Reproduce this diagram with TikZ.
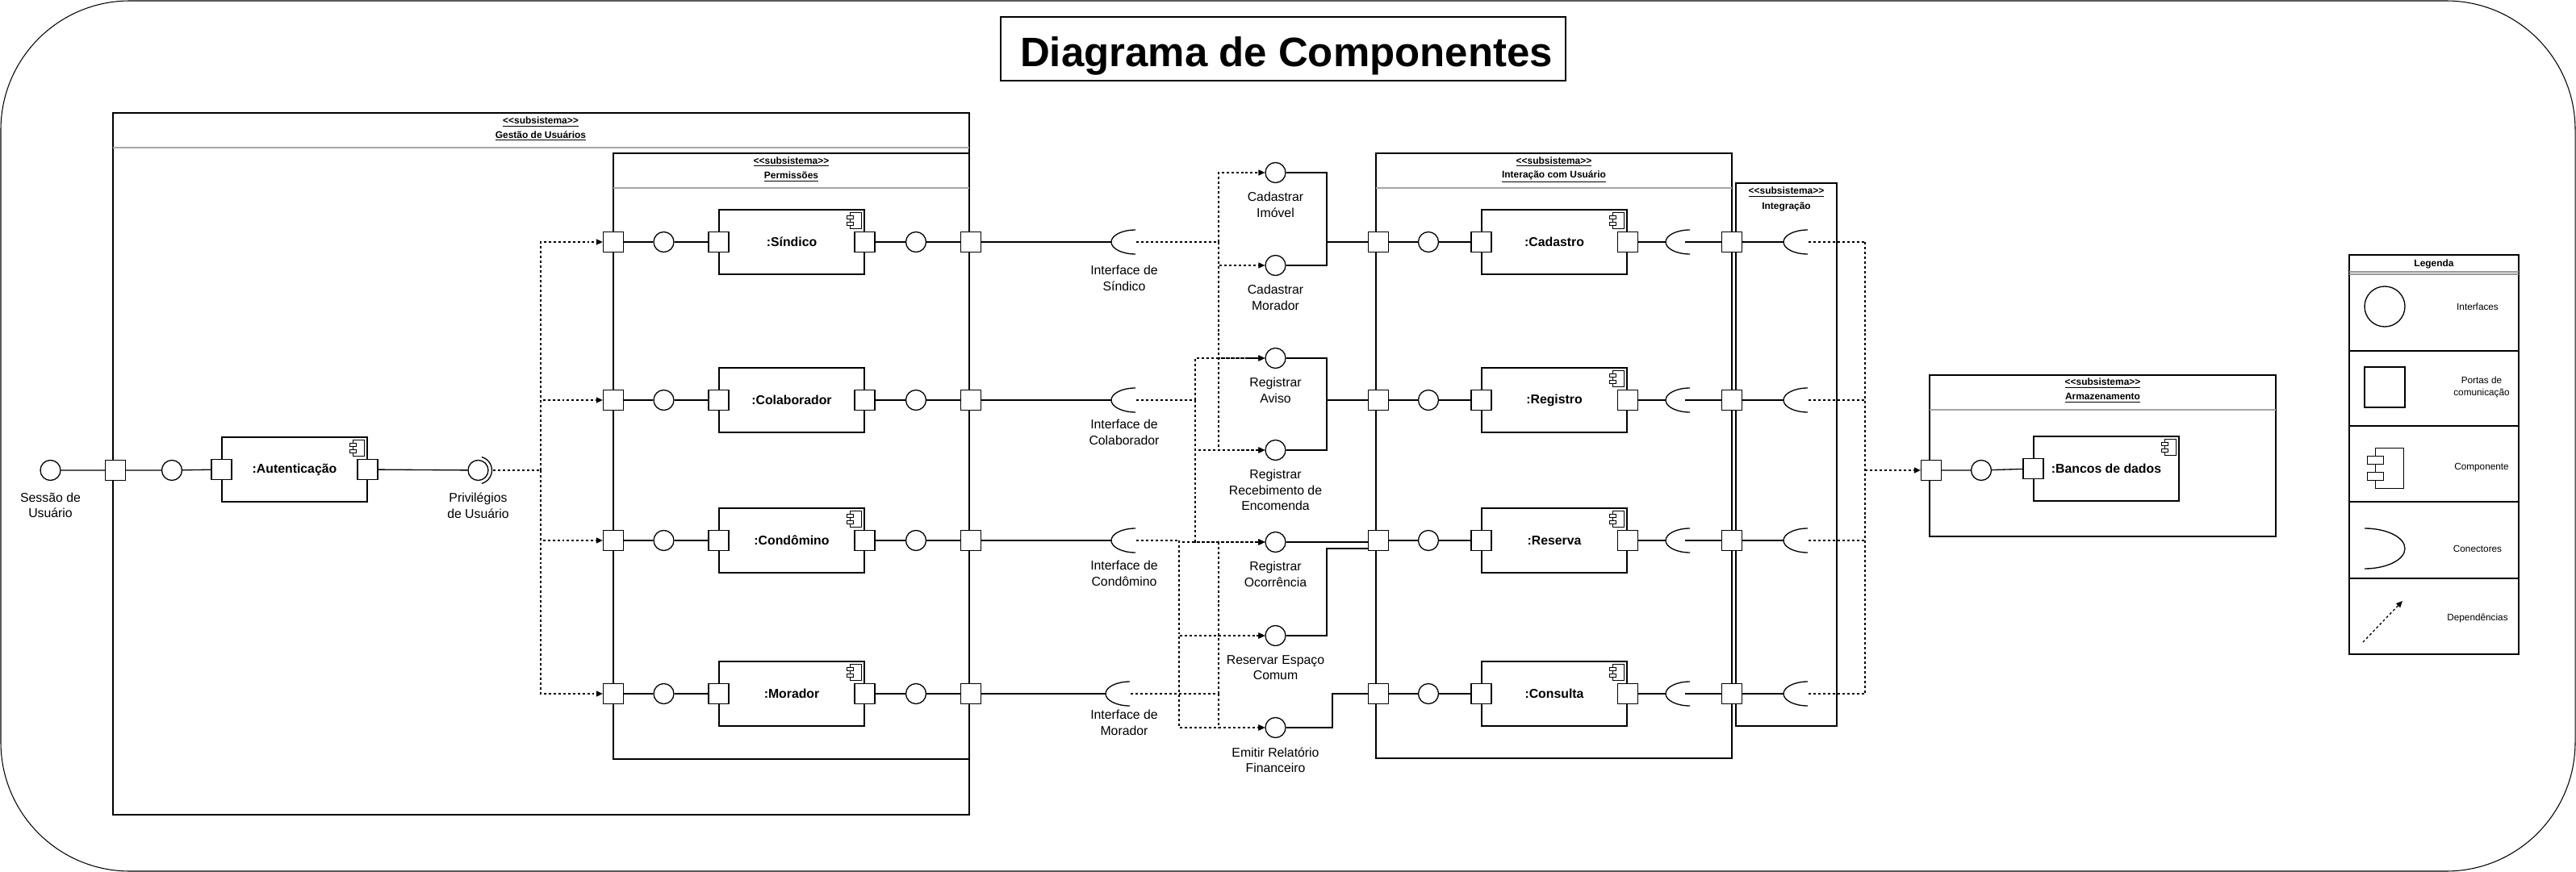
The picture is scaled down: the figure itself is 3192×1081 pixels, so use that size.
\documentclass[tikz,border=0pt]{standalone}
\usepackage{fontspec}
\setmainfont{Liberation Sans}
\usetikzlibrary{arrows.meta, positioning, calc}
\newcommand{\substereo}{\underline{<\kern0pt<subsistema>\kern0pt>}}
\tikzset{
    % shapes - drawn at 1 unit = 1 px of the model
    port/.style={
        rectangle,
        draw,
        fill=white,
        line width=0.75pt,
        minimum size=0.5cm,
        inner sep=0pt
    },
    iface/.style={
        circle,
        draw,
        fill=white,
        line width=0.75pt,
        minimum size=0.5cm,
        inner sep=0pt
    },
    comp/.style={
        rectangle,
        draw,
        fill=white,
        line width=0.75pt,
        minimum width=3.6cm,
        minimum height=1.6cm,
        font=\bfseries\fontsize{9}{11}\selectfont
    },
    lbl/.style={
        align=center,
        inner sep=0pt,
        font=\fontsize{9}{11.1}\selectfont
    },
    head/.style={
        align=center,
        inner sep=0pt,
        font=\bfseries\fontsize{6.8}{8}\selectfont
    },
    legtext/.style={
        align=center,
        inner sep=0pt,
        font=\fontsize{6.7}{8.5}\selectfont
    },
    % lines
    wire/.style={line width=0.75pt},
    frame/.style={line width=0.75pt},
    sep/.style={line width=0.75pt, draw=gray!70},
    depline/.style={line width=0.75pt, dash pattern=on 1.7pt off 1.7pt},
    dep/.style={depline, -{Triangle[length=4.5pt,width=4pt]}},
    % small symbols
    compicon/.pic={
        \draw[line width=0.5pt] (-14,0) rectangle (0,20);
        \draw[line width=0.5pt, fill=white] (-18,4) rectangle (-10,8);
        \draw[line width=0.5pt, fill=white] (-18,12) rectangle (-10,16);
    },
    socket/.pic={
        \draw[line width=0.75pt] (0.6cm,0.3cm) arc[start angle=90, end angle=270, x radius=0.6cm, y radius=0.3cm];
    }
}

\begin{document}
\begin{tikzpicture}[x=0.02cm, y=-0.02cm]
    \useasboundingbox (0,0) rectangle (3192,1081);
    \draw[line width=0.6pt, rounded corners=3.2cm] (1,1) rectangle (3191,1080);

    % title
    \node[draw, line width=0.75pt, minimum width=14cm, minimum height=1.58cm] (titlebox) at (1590,60.5) {};
    \node[anchor=base, font=\bfseries\fontsize{29}{34}\selectfont] (title) at (1594,83) {Diagrama de Componentes};

    % subsystem frames
    \draw[frame] (140,140) rectangle (1201,1010);
    \draw[sep] (140,183) -- (1201,183);
    \node[head] (gestS) at (670,151) {\substereo};
    \node[head] (gestN) at (670,168.6) {\underline{Gestão de Usuários}};

    \draw[frame] (760,190) rectangle (1201,941);
    \draw[sep] (760,233) -- (1201,233);
    \node[head] (permS) at (980.5,200.7) {\substereo};
    \node[head] (permN) at (980.5,219) {\underline{Permissões}};

    \draw[frame] (1705,190) rectangle (2146,940);
    \draw[sep] (1705,233) -- (2146,233);
    \node[head] (interS) at (1925.5,200.7) {\substereo};
    \node[head] (interN) at (1925.5,219) {\underline{Interação com Usuário}};

    \draw[frame] (2151,227) rectangle (2276,900);
    \node[head] (integS) at (2213.5,238) {\substereo};
    \node[head] (integN) at (2213.5,256) {Integração};

    \draw[frame] (2391,465) rectangle (2820,665);
    \draw[sep] (2391,508) -- (2820,508);
    \node[head] (armS) at (2605.5,475) {\substereo};
    \node[head] (armN) at (2605.5,493) {\underline{Armazenamento}};

    % Gestao de Usuarios
    \node[iface] (sess) at (62.5,583) {};
    \node[lbl, below=0.29cm of sess] (sessT) {Sessão de\\Usuário};
    \node[port] (gP) at (143,583) {};
    \node[iface] (gI) at (213,583) {};
    \node[comp] (aut) at (365,582) {:Autenticação};
    \node[port] (autL) at (aut.west) {};
    \node[port] (autR) at (aut.east) {};
    \node[iface] (priv) at (592.5,583) {};
    \draw[wire] ([shift={(75:0.34cm)}]priv.center) arc[start angle=75, end angle=-75, radius=0.34cm];
    \node[lbl, below=0.29cm of priv] (privT) {Privilégios\\de Usuário};
    \draw[wire] (sess) -- (gP) -- (gI) -- (autL);
    \draw[wire] (autR) -- (priv);

    % Permissoes
    \foreach \r/\y/\t/\sx/\lo/\lt in {sin/300/{:Síndico}/1377/29/{Interface de\\Síndico},
                                    col/496/{:Colaborador}/1377/24/{Interface de\\Colaborador},
                                    con/670/{:Condômino}/1377/25/{Interface de\\Condômino},
                                    mor/860/{:Morador}/1370/20/{Interface de\\Morador}} {
        \node[port] (pL\r) at (760,\y) {};
        \node[iface] (pa\r) at (822.5,\y) {};
        \node[comp] (c\r) at (981,\y) {\t};
        \node[port] (cL\r) at (c\r.west) {};
        \node[port] (cR\r) at (c\r.east) {};
        \node[iface] (pb\r) at (1135,\y) {};
        \node[port] (pR\r) at (1203,\y) {};
        \coordinate (sk\r) at (\sx,\y);
        \coordinate (sko\r) at ({\sx+31},\y);
        \pic at (sk\r) {socket};
        \node[lbl, anchor=north] (it\r) at (1393,{\y+\lo}) {\lt};
        \draw[wire] (pL\r) -- (pa\r) -- (cL\r);
        \draw[wire] (cR\r) -- (pb\r) -- (pR\r) -- (sk\r);
    }

    % dependencies from Privilegios de Usuario
    \coordinate (privO) at (611,583);
    \coordinate (pTrunk) at (670,583);
    \draw[depline] (privO) -- (pTrunk);
    \foreach \r in {sin,col,con,mor}
        \draw[dep] (pTrunk) |- (pL\r);

    % provided interfaces
    \node[iface] (ci) at (1580.5,214) {};
    \node[lbl, below=0.22cm of ci] (ciT) {Cadastrar\\Imóvel};
    \node[iface] (cm) at (1580.5,329) {};
    \node[lbl, below=0.22cm of cm] (cmT) {Cadastrar\\Morador};
    \node[iface] (ra) at (1580.5,444) {};
    \node[lbl, below=0.22cm of ra] (raT) {Registrar\\Aviso};
    \node[iface] (rr) at (1580.5,558) {};
    \node[lbl, below=0.22cm of rr] (rrT) {Registrar\\Recebimento de\\Encomenda};
    \node[iface] (ro) at (1580.5,672) {};
    \node[lbl, below=0.22cm of ro] (roT) {Registrar\\Ocorrência};
    \node[iface] (re) at (1580.5,788) {};
    \node[lbl, below=0.22cm of re] (reT) {Reservar Espaço\\Comum};
    \node[iface] (ef) at (1580.5,902) {};
    \node[lbl, below=0.22cm of ef] (efT) {Emitir Relatório\\Financeiro};

    % dependencies from the user interfaces
    \coordinate (tsin) at (1510,300);
    \draw[depline] (skosin) -- (tsin);
    \foreach \i in {ci,cm,ra,rr}
        \draw[dep] (tsin) |- (\i);
    \coordinate (tcol) at (1481,496);
    \draw[depline] (skocol) -- (tcol);
    \foreach \i in {ra,rr,ro}
        \draw[dep] (tcol) |- (\i);
    \coordinate (tcon) at (1461,670);
    \draw[depline] (skocon) -- (tcon);
    \foreach \i in {ro,re,ef}
        \draw[dep] (tcon) |- (\i);
    \coordinate (tmor) at (1510,860);
    \draw[depline] (skomor) -- (tmor);
    \foreach \i in {ro,re,ef}
        \draw[dep] (tmor) |- (\i);

    % Interacao com Usuario and Integracao
    \foreach \r/\y/\t in {cad/300/{:Cadastro}, reg/496/{:Registro}, res/670/{:Reserva}, cns/860/{:Consulta}} {
        \node[port] (ipL\r) at (1708,\y) {};
        \node[iface] (ia\r) at (1770,\y) {};
        \node[comp] (d\r) at (1926,\y) {\t};
        \node[port] (dL\r) at (d\r.west) {};
        \node[port] (dR\r) at (d\r.east) {};
        \coordinate (ska\r) at (2064,\y);
        \coordinate (skb\r) at (2088,\y);
        \pic at (ska\r) {socket};
        \node[port] (jP\r) at (2146,\y) {};
        \coordinate (skc\r) at (2210,\y);
        \coordinate (skd\r) at (2241,\y);
        \pic at (skc\r) {socket};
        \coordinate (tI\r) at (2311,\y);
        \draw[wire] (ipL\r) -- (ia\r) -- (dL\r);
        \draw[wire] (dR\r) -- (ska\r);
        \draw[wire] (skb\r) -- (jP\r) -- (skc\r);
        \draw[depline] (skd\r) -- (tI\r);
    }

    % provided interfaces to Interacao ports
    \coordinate (jsin) at (1644,300);
    \draw[wire] (ci) -| (jsin) -- (ipLcad);
    \draw[wire] (cm) -| (jsin);
    \coordinate (jcol) at (1644,496);
    \draw[wire] (ra) -| (jcol) -- (ipLreg);
    \draw[wire] (rr) -| (jcol);
    \draw[wire] (ro) -- (ro -| ipLres.west);
    \coordinate (jres) at (1644,680);
    \draw[wire] (re) -| (jres) -- (jres -| ipLres.west);
    \coordinate (jemi) at (1651,860);
    \draw[wire] (ef) -| (jemi) -- (ipLcns);

    % Armazenamento
    \node[port] (aP) at (2393,583) {};
    \node[iface] (aI) at (2455,583) {};
    \node[comp] (bd) at (2610,581) {:Bancos de dados};
    \node[port] (bL) at (bd.west) {};
    \draw[wire] (aP) -- (aI) -- (bL);
    \coordinate (iMid) at (2311,583);
    \draw[depline] (tIcad) -- (tIcns);
    \draw[dep] (iMid) -- (aP);

    % component icons
    \foreach \c in {aut,csin,ccon,cmor,dcad,dreg,dres,dcns,bd}
        \pic at ($(\c.north east)+(-4,4)$) {compicon};

    % legend
    \draw[frame] (2911,316) rectangle (3121,811);
    \node[head] (legT) at (3016,327) {Legenda};
    \draw[line width=0.6pt, gray!80] (2911,337) -- (3121,337);
    \draw[line width=0.6pt, gray!80] (2911,340) -- (3121,340);
    \foreach \yy in {435,528,622,717}
        \draw[frame] (2911,\yy) -- (3121,\yy);
    \node[iface, minimum size=1cm] (legI) at (2955,380) {};
    \node[legtext] (legIT) at (3070,380) {Interfaces};
    \node[port, minimum size=1cm] (legP) at (2955,480) {};
    \node[legtext] (legPT) at (3075,480) {Portas de\\comunicação};
    \pic[scale=2.5] at (2978,555) {compicon};
    \node[legtext] (legCT) at (3075,580) {Componente};
    \draw[wire] (2930,655) arc[start angle=90, end angle=-90, x radius=1cm, y radius=0.5cm];
    \node[legtext] (legST) at (3070,680) {Conectores};
    \coordinate (legA) at (2928,796);
    \coordinate (legB) at (2977,745);
    \draw[dep] (legA) -- (legB);
    \node[legtext] (legDT) at (3070,766) {Dependências};
\end{tikzpicture}
\end{document}
